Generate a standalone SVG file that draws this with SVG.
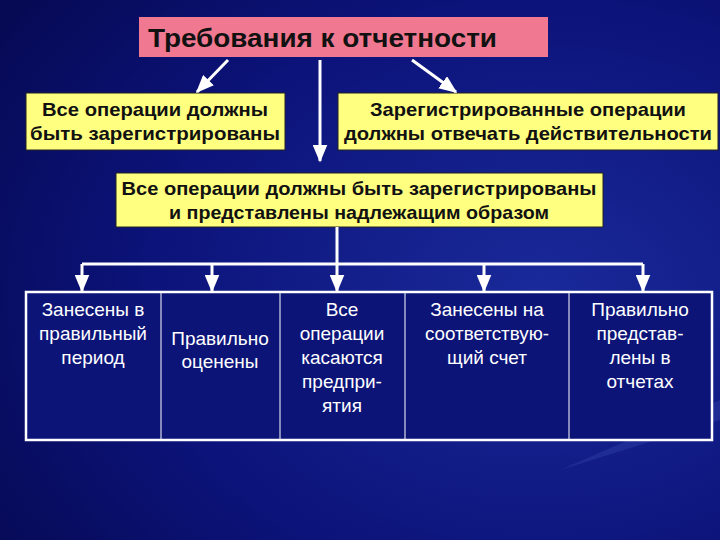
<svg xmlns="http://www.w3.org/2000/svg" width="720" height="540" viewBox="0 0 720 540">
<defs>
<radialGradient id="bg" cx="0.75" cy="0.55" r="0.9">
<stop offset="0" stop-color="#1a2a9a"/>
<stop offset="0.6" stop-color="#0c137a"/>
<stop offset="1" stop-color="#060a55"/>
</radialGradient>
<marker id="ah" viewBox="0 0 12 10" refX="11" refY="5" markerWidth="6" markerHeight="5" orient="auto" markerUnits="strokeWidth">
<path d="M0,0 L12,5 L0,10 z" fill="#fff"/>
</marker>
<style>
.yb{fill:#ffff80;stroke:#222;stroke-width:1}
.bt{font-family:"Liberation Sans",Arial,sans-serif;font-weight:bold;font-size:19px;fill:#111;text-anchor:middle}
.wt{font-family:"Liberation Sans",Arial,sans-serif;font-size:19px;fill:#fff;text-anchor:middle}
.ln{stroke:#fff;stroke-width:3;fill:none}
.ar{stroke:#fff;stroke-width:3;fill:none;marker-end:url(#ah)}
</style>
</defs>
<rect width="720" height="540" fill="url(#bg)"/>
<path d="M560,470 L720,400 L720,420 Z" fill="#3a4ab0" opacity="0.35"/>
<g id="title">
<rect x="139" y="17" width="409" height="40" fill="#f07890"/>
<text x="148" y="47" font-family="'Liberation Sans',Arial,sans-serif" font-weight="bold" font-size="25" fill="#111" textLength="349" lengthAdjust="spacingAndGlyphs">Требования к отчетности</text>
</g>
<g id="left">
<rect class="yb" x="26" y="93" width="259" height="57"/>
<text class="bt" x="155" y="116" textLength="226" lengthAdjust="spacingAndGlyphs">Все операции должны</text>
<text class="bt" x="155" y="140" textLength="250" lengthAdjust="spacingAndGlyphs">быть зарегистрированы</text>
</g>
<g id="right">
<rect class="yb" x="338" y="93" width="380" height="57"/>
<text class="bt" x="528" y="116" textLength="316" lengthAdjust="spacingAndGlyphs">Зарегистрированные операции</text>
<text class="bt" x="528" y="140" textLength="368" lengthAdjust="spacingAndGlyphs">должны отвечать действительности</text>
</g>
<g id="middle">
<rect class="yb" x="116" y="173" width="487" height="54"/>
<text class="bt" x="359" y="195" textLength="475" lengthAdjust="spacingAndGlyphs">Все операции должны быть зарегистрированы</text>
<text class="bt" x="359" y="219" textLength="380" lengthAdjust="spacingAndGlyphs">и представлены надлежащим образом</text>
</g>
<g id="connectors">
<line class="ar" x1="228" y1="60" x2="197" y2="92"/>
<line class="ar" x1="320" y1="60" x2="320" y2="161"/>
<line class="ar" x1="412" y1="60" x2="456" y2="92"/>
<line class="ln" x1="337" y1="227" x2="337" y2="264"/>
<line class="ln" x1="82" y1="264" x2="643" y2="264"/>
<line class="ar" x1="82" y1="264" x2="82" y2="291"/>
<line class="ar" x1="212" y1="264" x2="212" y2="291"/>
<line class="ar" x1="337" y1="264" x2="337" y2="291"/>
<line class="ar" x1="484" y1="264" x2="484" y2="291"/>
<line class="ar" x1="643" y1="264" x2="643" y2="291"/>
</g>
<g id="table">
<rect x="26" y="292" width="686" height="148" fill="#0c1478" stroke="#fff" stroke-width="2.5"/>
<line x1="161" y1="292" x2="161" y2="440" stroke="#fff" stroke-width="1"/>
<line x1="280" y1="292" x2="280" y2="440" stroke="#fff" stroke-width="1"/>
<line x1="405" y1="292" x2="405" y2="440" stroke="#fff" stroke-width="1"/>
<line x1="569" y1="292" x2="569" y2="440" stroke="#fff" stroke-width="1"/>
</g>
<g id="c1"><text class="wt" x="93" y="316">Занесены в</text><text class="wt" x="93" y="340">правильный</text><text class="wt" x="93" y="364">период</text></g>
<g id="c2"><text class="wt" x="220" y="345">Правильно</text><text class="wt" x="220" y="368">оценены</text></g>
<g id="c3"><text class="wt" x="342" y="316">Все</text><text class="wt" x="342" y="340">операции</text><text class="wt" x="342" y="364">касаются</text><text class="wt" x="342" y="388">предпри-</text><text class="wt" x="342" y="412">ятия</text></g>
<g id="c4"><text class="wt" x="487" y="316">Занесены на</text><text class="wt" x="487" y="340" textLength="124" lengthAdjust="spacingAndGlyphs">соответствую-</text><text class="wt" x="487" y="364">щий счет</text></g>
<g id="c5"><text class="wt" x="640" y="316">Правильно</text><text class="wt" x="640" y="340">представ-</text><text class="wt" x="640" y="364">лены в</text><text class="wt" x="640" y="388">отчетах</text></g>
</svg>
